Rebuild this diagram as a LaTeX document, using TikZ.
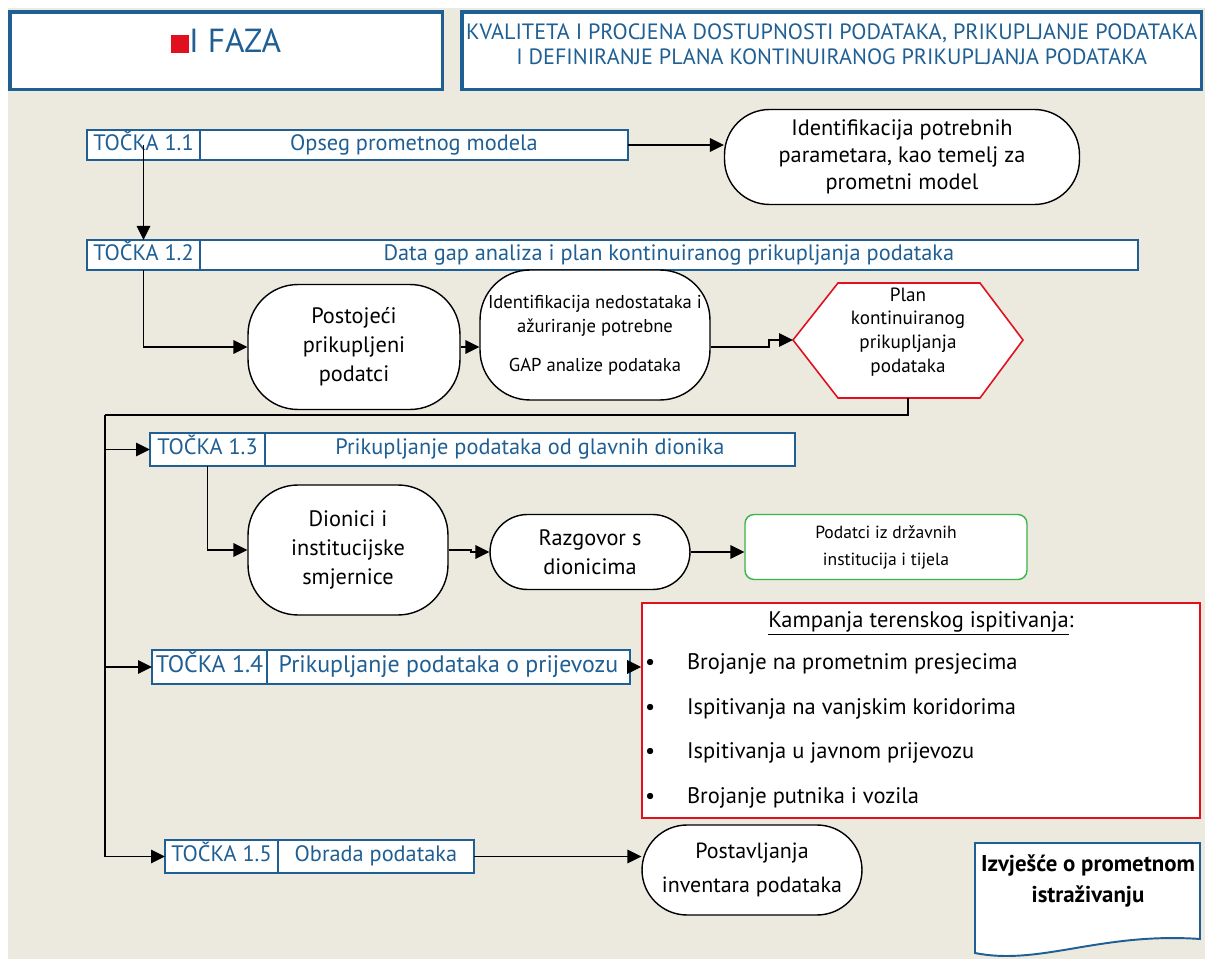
\documentclass[tikz,border=0pt]{standalone}
\usepackage{fontspec}
\setmainfont{PT Sans}
\usetikzlibrary{arrows.meta,positioning,calc}
\definecolor{Sea}{HTML}{1F5F94}
\definecolor{Sand}{HTML}{ECE9DF}
\definecolor{Signal}{HTML}{E0101E}
\definecolor{Leaf}{HTML}{3AB54A}
\tikzset{
  headbox/.style={draw=Sea,fill=white,line width=2pt,inner sep=0pt,anchor=north west},
  tag/.style={draw=Sea,fill=white,line width=1.3pt,text=Sea,font=\fontsize{12.7}{14}\selectfont,inner sep=0pt,outer sep=0pt,text height=9pt,text depth=3pt},
  pill/.style={draw=black,fill=white,line width=.8pt,align=center,inner sep=0pt,rounded corners=.9cm},
  hexline/.style={draw=Signal,fill=white,line width=.9pt},
  gov/.style={draw=Leaf,fill=white,line width=.8pt,align=center,rounded corners=.18cm},
  field/.style={draw=Signal,fill=white,line width=1pt,inner xsep=.06cm,inner ysep=0pt},
  docline/.style={draw=Sea,fill=white,line width=1.1pt},
  link/.style={-{Triangle[length=2.8mm,width=2.7mm]},line width=1pt},
  wire/.style={line width=1pt}
}
\begin{document}
\begin{tikzpicture}[x=.02cm,y=-.02cm,node distance=0cm]
        \useasboundingbox (0,0) rectangle (1205,959);
        \fill[white] (0,0) rectangle (1205,959);
        \fill[Sand] (8,8) rectangle (1205,959);

        \node[headbox,minimum width=8.66cm,minimum height=1.56cm] (phase) at (8,10) {};
        \node[font=\fontsize{19}{21}\selectfont,text=Sea] (phasename) at ([yshift=.2cm]phase.center) {\textcolor{Signal}{\rule{.36cm}{.36cm}}I FAZA};
        \node[headbox,minimum width=14.8cm,minimum height=1.56cm] (theme) at (460,10) {};
        \node[font=\fontsize{12.6}{14.2}\selectfont,text=Sea,align=center] (themetext) at ([yshift=.13cm]theme.center) {KVALITETA I PROCJENA DOSTUPNOSTI PODATAKA, PRIKUPLJANJE PODATAKA\\I DEFINIRANJE PLANA KONTINUIRANOG PRIKUPLJANJA PODATAKA};

        \node[tag,minimum width=2.26cm,minimum height=.6cm,anchor=north west] (t11) at (87,130) {TOČKA 1.1};
        \node[tag,minimum width=8.56cm,minimum height=.6cm,right=of t11] (s11) {Opseg prometnog modela};
        \node[pill,minimum width=7.1cm,minimum height=1.9cm,font=\fontsize{12.7}{15.3}\selectfont] (need) at (902,157) {Identifikacija potrebnih\\parametara, kao temelj za\\prometni model};

        \node[tag,minimum width=2.26cm,minimum height=.6cm,anchor=north west] (t12) at (87,240) {TOČKA 1.2};
        \node[tag,minimum width=18.76cm,minimum height=.6cm,right=of t12] (s12) {Data gap analiza i plan kontinuiranog prikupljanja podataka};
        \node[pill,minimum width=4.24cm,minimum height=2.5cm,rounded corners=1cm,font=\fontsize{12.7}{16.4}\selectfont] (have) at (354,347) {Postojeći\\prikupljeni\\podatci};
        \node[pill,minimum width=4.6cm,minimum height=2.6cm,rounded corners=1cm,font=\fontsize{10.6}{14}\selectfont] (gap) at (595,335) {Identifikacija nedostataka i\\ažuriranje potrebne\\[8pt]GAP analize podataka};
        \draw[hexline] (793,340) coordinate (planW) -- (838,283) -- (980,283) -- (1023,340) -- (980,398) -- (908,398) coordinate (planS) -- (838,398) -- cycle;
        \node[align=center,font=\fontsize{10.9}{13.6}\selectfont] (plan) at (908,332) {Plan\\kontinuiranog\\prikupljanja\\podataka};

        \node[tag,minimum width=2.3cm,minimum height=.66cm,anchor=north west] (t13) at (150,433) {TOČKA 1.3};
        \node[tag,minimum width=10.6cm,minimum height=.66cm,right=of t13] (s13) {Prikupljanje podataka od glavnih dionika};
        \node[pill,minimum width=4cm,minimum height=2.6cm,rounded corners=1cm,font=\fontsize{12.7}{16.4}\selectfont] (guide) at (348,550) {Dionici i\\institucijske\\smjernice};
        \node[pill,minimum width=4cm,minimum height=1.5cm,rounded corners=.75cm,font=\fontsize{12.7}{16.4}\selectfont] (talk) at (590,552) {Razgovor s\\dionicima};
        \node[gov,minimum width=5.64cm,minimum height=1.3cm,font=\fontsize{10}{15.3}\selectfont] (state) at (886,547) {Podatci iz državnih\\institucija i tijela};

        \node[tag,minimum width=2.3cm,minimum height=.68cm,anchor=north west,font=\fontsize{13.6}{15}\selectfont] (t14) at (152,650) {TOČKA 1.4};
        \node[tag,minimum width=7.26cm,minimum height=.68cm,right=of t14,font=\fontsize{13.6}{15}\selectfont] (s14) {Prikupljanje podataka o prijevozu};
        \node[field,minimum width=11.16cm,minimum height=4.3cm,font=\fontsize{12.8}{14}\selectfont] (survey) at (921,710.5) {%
          \begin{tabular}{@{}p{.84cm}@{}p{10.2cm}@{}}
          \multicolumn{2}{c}{\underline{Kampanja terenskog ispitivanja}:\hspace{1.1cm}}\\[10pt]
          \textbullet & Brojanje na prometnim presjecima\\[11.5pt]
          \textbullet & Ispitivanja na vanjskim koridorima\\[11.5pt]
          \textbullet & Ispitivanja u javnom prijevozu\\[11.5pt]
          \textbullet & Brojanje putnika i vozila
          \end{tabular}};

        \node[tag,minimum width=2.26cm,minimum height=.66cm,anchor=north west] (t15) at (165,840) {TOČKA 1.5};
        \node[tag,minimum width=3.92cm,minimum height=.66cm,right=of t15] (s15) {Obrada podataka};
        \node[pill,minimum width=4.4cm,minimum height=1.8cm,font=\fontsize{12.5}{19.8}\selectfont] (stock) at (752,870) {Postavljanja\\inventara podataka};

        \draw[docline] (975,843) -- (1200,843) -- (1200,939) .. controls (1100,932) and (1040,966) .. (975,953) -- cycle;
        \node[align=center,font=\bfseries\fontsize{13}{17.6}\selectfont] (report) at (1088,881) {Izvješće o prometnom\\istraživanju};

        \draw[link] (s11.east) -- (s11.east -| need.west);
        \draw[link] (t11.center) -- (t12.north);
        \draw[link] (t12.south) |- (have.west);
        \draw[link] (have.east) -- (have.east -| gap.west);
        \draw[link] (have.east -| gap.east) -- ++(58,0) |- (planW);
        \coordinate (bus) at (105,415);
        \draw[wire] (planS) |- (bus);
        \draw[link] (bus) |- (t15.west);
        \draw[link] (t13.west -| bus) -- (t13.west);
        \draw[link] (t14.west -| bus) -- (t14.west);
        \draw[link] (t13.south) |- (guide.west);
        \draw[link] (guide.east) -- ++(22,0) |- (talk.west);
        \draw[link] (talk.east) -- (talk.east -| state.west);
        \draw[link] (s14.east) -- (s14.east -| survey.west);
        \draw[link] (s15.east) -- (s15.east -| stock.west);
      \end{tikzpicture}
\end{document}
